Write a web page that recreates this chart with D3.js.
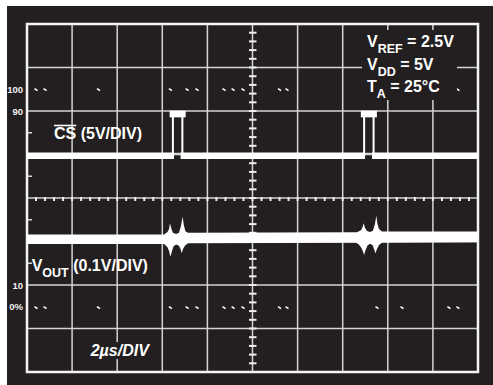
<!DOCTYPE html>
<html lang="en">
<head>
    <meta charset="UTF-8">
    <title>CS feedthrough on VOUT</title>
    <script src="https://d3js.org/d3.v7.min.js"></script>
    <style>
        html, body {
            margin: 0;
            padding: 0;
            background: #fff;
        }

        svg {
            display: block;
        }
    </style>
</head>
<body>
    <script>
        // scope screen: time in µs (2µs/DIV x 10), vertical in divisions (8)
        const timeTicks = [0, 2, 4, 6, 8, 10, 12, 14, 16, 18, 20]
        const divTicks = [-4, -3, -2, -1, 0, 1, 2, 3, 4]
        const edgeTicks = [1.5, 0.5, -0.5, -1.5]

        // percent reference labels on the left edge
        const pctLabels = ['100', '90', '10', '0%']
        const pctLevels = [2.5, 2, -2, -2.5]

        // little reference dots on the 100% and 0% rows
        const markTimes = [0.4, 0.8, 3.17, 6.36, 7.1, 7.54, 8.74, 9.14, 9.58, 11.2, 11.53, 15.52, 16.63, 18.71, 19.11]
        const markLevels = [2.49, -2.52]

        // CS trace (5V/DIV)
        const csTime = [0, 6.47, 6.47, 6.89, 6.89, 14.95, 14.95, 15.37, 15.37, 20]
        const csLevel = [0.97, 0.97, 1.93, 1.93, 0.97, 0.97, 1.93, 1.93, 0.97, 0.97]
        const csLowSegs = [[0, 6.52], [6.81, 14.99], [15.3, 20]]
        const csHighSegs = [[6.47, 6.89], [14.95, 15.37]]
        const csLow = 0.97
        const csHigh = 1.93

        // VOUT trace (0.1V/DIV), upper and lower edge of the band
        const voutUpper = [
            [0, -0.84], [6.08, -0.84], [6.23, -0.78], [6.3, -0.71], [6.34, -0.58], [6.41, -0.72],
            [6.47, -0.8], [6.61, -0.83], [6.74, -0.8], [6.83, -0.64], [6.9, -0.43], [6.96, -0.64],
            [7.03, -0.77], [7.14, -0.8], [14.63, -0.79], [14.81, -0.74], [14.88, -0.67], [14.93, -0.58],
            [14.99, -0.69], [15.08, -0.76], [15.21, -0.78], [15.34, -0.75], [15.43, -0.6], [15.49, -0.41],
            [15.54, -0.6], [15.61, -0.71], [15.74, -0.77], [20, -0.77]
        ]
        const voutLower = [
            [0, -1.06], [6.08, -1.06], [6.23, -1.13], [6.3, -1.22], [6.36, -1.35], [6.43, -1.22],
            [6.5, -1.11], [6.61, -1.07], [6.74, -1.1], [6.81, -1.17], [6.86, -1.27], [6.92, -1.17],
            [7.01, -1.09], [7.14, -1.04], [14.59, -1.03], [14.72, -1.07], [14.83, -1.15], [14.9, -1.23],
            [14.95, -1.31], [15.01, -1.2], [15.1, -1.09], [15.21, -1.05], [15.32, -1.08], [15.39, -1.17],
            [15.45, -1.27], [15.52, -1.17], [15.61, -1.08], [15.74, -1.03], [20, -1.02]
        ]

        const W = 493
        const H = 385
        const bg = '#231f20'
        const gridColor = '#d4d4d4'

        const x = d3.scaleLinear().domain([0, 20]).range([27, 478])
        const y = d3.scaleLinear().domain([-4, 4]).range([372, 24])

        const svg = d3.select('body')
            .append('svg')
            .attr('width', W)
            .attr('height', H)

        svg.append('rect')
            .attr('x', 7)
            .attr('y', 6)
            .attr('width', W - 7)
            .attr('height', H - 6)
            .attr('fill', bg)

        // graticule
        const grid = svg.append('g')
        grid.selectAll('line.v')
            .data(timeTicks.slice(1, -1))
            .join('line')
            .attr('class', 'v')
            .attr('x1', d => x(d))
            .attr('x2', d => x(d))
            .attr('y1', y(4))
            .attr('y2', y(-4))
            .attr('stroke', gridColor)
            .attr('stroke-width', 1.5)
        grid.selectAll('line.h')
            .data(divTicks.slice(1, -1))
            .join('line')
            .attr('class', 'h')
            .attr('x1', x(0))
            .attr('x2', x(20))
            .attr('y1', d => y(d))
            .attr('y2', d => y(d))
            .attr('stroke', gridColor)
            .attr('stroke-width', 1.5)

        // minor ticks on the centre axes
        grid.selectAll('line.mx')
            .data(d3.range(0, 20.01, 0.4))
            .join('line')
            .attr('class', 'mx')
            .attr('x1', d => x(d))
            .attr('x2', d => x(d))
            .attr('y1', y(0) - 1)
            .attr('y2', y(0) + 3)
            .attr('stroke', '#eee')
            .attr('stroke-width', 2)
        grid.selectAll('line.my')
            .data(d3.range(-4, 4.01, 0.2))
            .join('line')
            .attr('class', 'my')
            .attr('x1', x(10) - 3.5)
            .attr('x2', x(10) + 4)
            .attr('y1', d => y(d))
            .attr('y2', d => y(d))
            .attr('stroke', '#eee')
            .attr('stroke-width', 2)
        grid.selectAll('line.e')
            .data(edgeTicks)
            .join('line')
            .attr('class', 'e')
            .attr('x1', x(0))
            .attr('x2', x(0) + 5)
            .attr('y1', d => y(d))
            .attr('y2', d => y(d))
            .attr('stroke', gridColor)
            .attr('stroke-width', 1.5)

        svg.append('rect')
            .attr('x', x(0))
            .attr('y', y(4))
            .attr('width', x(20) - x(0))
            .attr('height', y(-4) - y(4))
            .attr('fill', 'none')
            .attr('stroke', '#f4f4f4')
            .attr('stroke-width', 2.5)

        // percent labels
        svg.append('g')
            .selectAll('text')
            .data(pctLabels)
            .join('text')
            .attr('x', 23)
            .attr('y', (d, i) => y(pctLevels[i]) + 3.5)
            .attr('text-anchor', 'end')
            .attr('font-family', '"Liberation Sans Narrow", "Arial Narrow", sans-serif')
            .attr('font-weight', 'bold')
            .attr('font-size', 9.5)
            .attr('fill', '#f0f0f0')
            .text(d => d)

        // reference dots
        const marks = []
        markLevels.forEach(l => markTimes.forEach(t => marks.push([t, l])))
        svg.append('g')
            .selectAll('line')
            .data(marks)
            .join('line')
            .attr('x1', d => x(d[0]) - 1.5)
            .attr('x2', d => x(d[0]) + 1.5)
            .attr('y1', d => y(d[1]) - 1)
            .attr('y2', d => y(d[1]) + 1)
            .attr('stroke', '#fff')
            .attr('stroke-width', 1.6)

        // CS trace
        const cs = svg.append('g')
        cs.append('path')
            .datum(csTime.map((t, i) => [t, csLevel[i]]))
            .attr('d', d3.line().x(d => x(d[0])).y(d => y(d[1])))
            .attr('fill', 'none')
            .attr('stroke', '#fff')
            .attr('stroke-width', 2)
        cs.selectAll('line.low')
            .data(csLowSegs)
            .join('line')
            .attr('class', 'low')
            .attr('x1', d => x(d[0]))
            .attr('x2', d => x(d[1]))
            .attr('y1', y(csLow))
            .attr('y2', y(csLow))
            .attr('stroke', '#fff')
            .attr('stroke-width', 6.6)
        cs.selectAll('line.high')
            .data(csHighSegs)
            .join('line')
            .attr('class', 'high')
            .attr('x1', d => x(d[0]))
            .attr('x2', d => x(d[1]))
            .attr('y1', y(csHigh))
            .attr('y2', y(csHigh))
            .attr('stroke', '#fff')
            .attr('stroke-width', 6.6)
            .attr('stroke-linecap', 'square')
        cs.selectAll('line.bar')
            .data(csHighSegs)
            .join('line')
            .attr('class', 'bar')
            .attr('x1', d => x(d[0]))
            .attr('x2', d => x(d[1]))
            .attr('y1', y(csLow) - 2.5)
            .attr('y2', y(csLow) - 2.5)
            .attr('stroke', '#fff')
            .attr('stroke-width', 1)

        // VOUT band
        svg.append('path')
            .datum(voutUpper.concat(voutLower.slice().reverse()))
            .attr('d', d3.line().x(d => x(d[0])).y(d => y(d[1])).curve(d3.curveLinearClosed))
            .attr('fill', '#fff')

        // conditions box
        svg.append('rect')
            .attr('x', 362)
            .attr('y', 30)
            .attr('width', 95)
            .attr('height', 70)
            .attr('fill', bg)

        const font = '"Liberation Sans", Arial, Helvetica, sans-serif'
        const conds = [['V', 'REF', ' = 2.5V'], ['V', 'DD', ' = 5V'], ['T', 'A', ' = 25°C']]
        const condY = [47.3, 70, 92]
        conds.forEach((c, i) => {
            const t = svg.append('text')
                .attr('x', 367)
                .attr('y', condY[i])
                .attr('font-family', font)
                .attr('font-weight', 'bold')
                .attr('font-size', 16)
                .attr('fill', '#fff')
            t.append('tspan').text(c[0])
            t.append('tspan').attr('dy', 5.5).attr('font-size', 12.5).text(c[1])
            t.append('tspan').attr('dy', -5.5).text(c[2])
        })

        // CS label with overline
        const csText = svg.append('text')
            .attr('x', 54)
            .attr('y', 139.3)
            .attr('font-family', font)
            .attr('font-weight', 'bold')
            .attr('font-size', 16)
            .attr('fill', '#fff')
        csText.append('tspan').text('CS')
        csText.append('tspan').text(' (5V/DIV)')
        const csLen = csText.node().getSubStringLength(0, 2)
        svg.append('line')
            .attr('x1', 54)
            .attr('x2', 54 + csLen)
            .attr('y1', 125.5)
            .attr('y2', 125.5)
            .attr('stroke', '#fff')
            .attr('stroke-width', 1.6)

        // VOUT label
        const vText = svg.append('text')
            .attr('x', 31.7)
            .attr('y', 271)
            .attr('font-family', font)
            .attr('font-weight', 'bold')
            .attr('font-size', 16)
            .attr('fill', '#fff')
        vText.append('tspan').text('V')
        vText.append('tspan').attr('dy', 5.5).attr('font-size', 12.5).text('OUT')
        vText.append('tspan').attr('dy', -5.5).text(' (0.1V/DIV)')

        // time base
        svg.append('rect')
            .attr('x', 88)
            .attr('y', 342)
            .attr('width', 62)
            .attr('height', 17)
            .attr('fill', bg)
        svg.append('text')
            .attr('x', 90.7)
            .attr('y', 355.7)
            .attr('font-family', font)
            .attr('font-weight', 'bold')
            .attr('font-style', 'italic')
            .attr('font-size', 16)
            .attr('fill', '#fff')
            .text('2µs/DIV')
    </script>
</body>
</html>
